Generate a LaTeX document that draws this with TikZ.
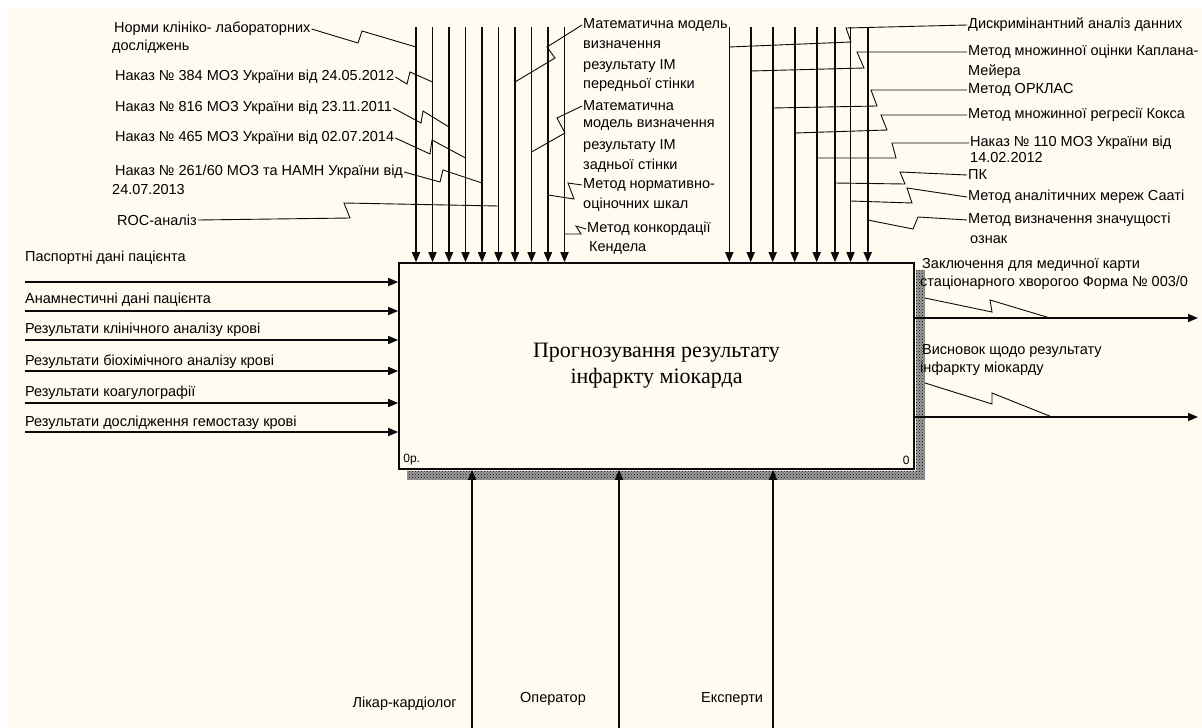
\documentclass[tikz,border=0pt]{standalone}
\usepackage{fontspec}
\setmainfont{Liberation Sans}
\newfontfamily\titlefont{Liberation Serif}
\usepackage{tikz}
\usetikzlibrary{
    arrows.meta,
    calc,
    patterns
}
\tikzset{
  lbl/.style  = {inner sep=1pt, anchor=west, font=\fontsize{14.5}{16}\selectfont},
  arr/.style  = {-{Triangle[length=10pt,width=8pt]}, line width=1.6pt, color=Ink},
  lead/.style = {line width=0.9pt, color=Ink}
}
\definecolor{Paper}{RGB}{255,251,240}
\definecolor{Ink}{RGB}{10,10,10}

\begin{document}
\begin{tikzpicture}[
    x=1pt, y=-1pt,
    fnbox/.style  = {rectangle, draw=Ink, fill=Paper, line width=1.6pt,
                     minimum width=515pt, minimum height=206pt,
                     align=center, inner sep=0pt,
                     font=\titlefont\fontsize{22}{26}\selectfont},
    tag/.style    = {inner sep=0pt, font=\fontsize{12}{14}\selectfont},
    shade/.style  = {fill=Ink!40, postaction={pattern=crosshatch dots, pattern color=Ink}},
  ]

  \useasboundingbox (0,0) rectangle (1202,728);
  \fill[white] (0,0) rectangle (1202,728);
  \fill[Paper] (8,8) rectangle (1202,728);

  % activity box
  \node[fnbox] (A0) at (656.5,366) {Прогнозування результату\\інфаркту міокарда};
  \fill[shade] ($(A0.north east)+(1,8)$) rectangle ($(A0.south east)+(10,10)$);
  \fill[shade] ($(A0.south west)+(9,1)$) rectangle ($(A0.south east)+(1,10)$);
  \node[tag, anchor=south west] (A0no)  at ($(A0.south west)+(5,-5)$) {0р.};
  \node[tag, anchor=south east] (A0num) at ($(A0.south east)+(-5,-5)$) {0};

  % controls, left group
  \coordinate (c1)  at (416,27);
  \coordinate (c2)  at (432.5,27);
  \coordinate (c3)  at (449,27);
  \coordinate (c4)  at (465.5,27);
  \coordinate (c5)  at (482,27);
  \coordinate (c6)  at (498.5,27);
  \coordinate (c7)  at (515,27);
  \coordinate (c8)  at (531.5,27);
  \coordinate (c9)  at (548,27);
  \coordinate (c10) at (564.5,27);
  \draw[arr] (c1)  -- (c1  |- A0.north);
  \draw[arr] (c2)  -- (c2  |- A0.north);
  \draw[arr] (c3)  -- (c3  |- A0.north);
  \draw[arr] (c4)  -- (c4  |- A0.north);
  \draw[arr] (c5)  -- (c5  |- A0.north);
  \draw[arr] (c6)  -- (c6  |- A0.north);
  \draw[arr] (c7)  -- (c7  |- A0.north);
  \draw[arr] (c8)  -- (c8  |- A0.north);
  \draw[arr] (c9)  -- (c9  |- A0.north);
  \draw[arr] (c10) -- (c10 |- A0.north);

  \coordinate (j1)  at (416,47);
  \coordinate (j2)  at (432.5,82);
  \coordinate (j3)  at (449,127);
  \coordinate (j4)  at (465.5,158);
  \coordinate (j5)  at (482,183);
  \coordinate (j6)  at (498.5,206);
  \coordinate (j7)  at (515,82);
  \coordinate (j8)  at (531.5,152);
  \coordinate (j9)  at (548,195);
  \coordinate (j10) at (564.5,234);

  \node[lbl] (norms)  at (113,29)  {Норми клініко- лабораторних};
  \node[lbl] (norms2) at (111,47)  {досліджень};
  \node[lbl] (ord384) at (114,77)  {Наказ № 384 МОЗ України від 24.05.2012};
  \node[lbl] (ord816) at (114,108) {Наказ № 816 МОЗ України від 23.11.2011};
  \node[lbl] (ord465) at (114,138) {Наказ № 465 МОЗ України від 02.07.2014};
  \node[lbl] (ord261) at (114,172) {Наказ № 261/60 МОЗ та НАМН України від};
  \node[lbl] (ord261b) at (111,190) {24.07.2013};
  \node[lbl] (roc)    at (116,220) {ROC-аналіз};

  \node[lbl] (mathA)  at (582,25)  {Математична модель};
  \node[lbl] (mathA2) at (582,45)  {визначення};
  \node[lbl] (mathA3) at (582,66)  {результату ІМ};
  \node[lbl] (mathA4) at (582,85)  {передньої стінки};
  \node[lbl] (mathB)  at (582,106) {Математична};
  \node[lbl] (mathB2) at (582,125) {модель визначення};
  \node[lbl] (mathB3) at (582,146) {результату ІМ};
  \node[lbl] (mathB4) at (582,166) {задньої стінки};
  \node[lbl] (scale)  at (582,185) {Метод нормативно-};
  \node[lbl] (scale2) at (582,205) {оціночних шкал};
  \node[lbl] (kend)   at (586,229) {Метод конкордації};
  \node[lbl] (kend2)  at (588,248) {Кендела};

  \draw[lead] (norms.east)  -- (358,43)  -- (362,31)  -- (j1);
  \draw[lead] (ord384.east) -- (407,84)  -- (410,72)  -- (j2);
  \draw[lead] (ord816.east) -- (421,123) -- (423,111) -- (j3);
  \draw[lead] (ord465.east) -- (430,154) -- (432,140) -- (j4);
  \draw[lead] (ord261.east) -- (440,182) -- (443,170) -- (j5);
  \draw[lead] (roc.east)    -- (350,218) -- (344,203) -- (j6);
  \draw[lead] (mathA.west)  -- (547,47)  -- (555,58)  -- (j7);
  \draw[lead] (mathB.west)  -- (557,118) -- (565,133) -- (j8);
  \draw[lead] (scale.west)  -- (568,183) -- (574,199) -- (j9);
  \draw[lead] (kend.west)   -- (576,226) -- (581,234) -- (j10);

  % controls, right group
  \coordinate (d1) at (729.3,27);
  \coordinate (d2) at (750.7,27);
  \coordinate (d3) at (772.7,27);
  \coordinate (d4) at (794.7,27);
  \coordinate (d5) at (816.7,27);
  \coordinate (d6) at (835,27);
  \coordinate (d7) at (850.5,27);
  \coordinate (d8) at (867.7,27);
  \draw[arr] (d1) -- (d1 |- A0.north);
  \draw[arr] (d2) -- (d2 |- A0.north);
  \draw[arr] (d3) -- (d3 |- A0.north);
  \draw[arr] (d4) -- (d4 |- A0.north);
  \draw[arr] (d5) -- (d5 |- A0.north);
  \draw[arr] (d6) -- (d6 |- A0.north);
  \draw[arr] (d7) -- (d7 |- A0.north);
  \draw[arr] (d8) -- (d8 |- A0.north);

  \coordinate (k1) at (729.3,47);
  \coordinate (k2) at (750.7,71);
  \coordinate (k3) at (772.7,108);
  \coordinate (k4) at (794.7,133);
  \coordinate (k5) at (816.7,158);
  \coordinate (k6) at (835,183);
  \coordinate (k7) at (850.5,201);
  \coordinate (k8) at (867.7,220);

  \node[lbl] (discr)  at (967,25)  {Дискримінантний аналіз данних};
  \node[lbl] (kapl)   at (967,52)  {Метод множинної оцінки Каплана-};
  \node[lbl] (kapl2)  at (967,72)  {Мейера};
  \node[lbl] (orkl)   at (967,90)  {Метод ОРКЛАС};
  \node[lbl] (cox)    at (967,115) {Метод множинної регресії Кокса};
  \node[lbl] (ord110) at (969,143) {Наказ № 110 МОЗ України від};
  \node[lbl] (ord110b) at (969,158) {14.02.2012};
  \node[lbl] (pk)     at (967,175) {ПК};
  \node[lbl] (saaty)  at (967,197) {Метод аналітичних мереж Сааті};
  \node[lbl] (signif) at (967,220) {Метод визначення значущості};
  \node[lbl] (signif2) at (969,240) {ознак};

  \draw[lead] (discr.west)  -- (846,28)  -- (851,42)  -- (k1);
  \draw[lead] (kapl.west)   -- (857,52)  -- (864,68)  -- (k2);
  \draw[lead] (orkl.west)   -- (871,90)  -- (877,106) -- (k3);
  \draw[lead] (cox.west)    -- (881,115) -- (887,130) -- (k4);
  \draw[lead] (ord110.west) -- (892,143) -- (896,158) -- (k5);
  \draw[lead] (pk.west)     -- (900,172) -- (905,184) -- (k6);
  \draw[lead] (saaty.west)  -- (907,188) -- (912,203) -- (k7);
  \draw[lead] (signif.west) -- (918,217) -- (913,229) -- (k8);

  % inputs
  \coordinate (i1) at (25,282);
  \coordinate (i2) at (25,311);
  \coordinate (i3) at (25,340);
  \coordinate (i4) at (25,371);
  \coordinate (i5) at (25,403);
  \coordinate (i6) at (25,432);
  \draw[arr] (i1) -- (i1 -| A0.west);
  \draw[arr] (i2) -- (i2 -| A0.west);
  \draw[arr] (i3) -- (i3 -| A0.west);
  \draw[arr] (i4) -- (i4 -| A0.west);
  \draw[arr] (i5) -- (i5 -| A0.west);
  \draw[arr] (i6) -- (i6 -| A0.west);

  \node[lbl] (pasp)  at (24,258) {Паспортні дані пацієнта};
  \node[lbl] (anam)  at (24,300) {Анамнестичні дані пацієнта};
  \node[lbl] (blood) at (24,330) {Результати клінічного аналізу крові};
  \node[lbl] (bioch) at (24,362) {Результати біохімічного аналізу крові};
  \node[lbl] (coag)  at (24,393) {Результати коагулографії};
  \node[lbl] (hemo)  at (24,423) {Результати дослідження гемостазу крові};

  % outputs
  \coordinate (o1) at (1198,318);
  \coordinate (o2) at (1198,417);
  \draw[arr] (o1 -| A0.east) -- (o1);
  \draw[arr] (o2 -| A0.east) -- (o2);

  \node[lbl] (concl)  at (921,265) {Заключення для медичної карти};
  \node[lbl] (concl2) at (919,283) {стаціонарного хворогоо Форма № 003/0};
  \node[lbl] (resum)  at (921,351) {Висновок щодо результату};
  \node[lbl] (resum2) at (919,369) {інфаркту міокарду};

  \coordinate (q1) at (925,298);
  \coordinate (p1) at (1050,318);
  \coordinate (q2) at (925,383);
  \coordinate (p2) at (1052,417);
  \draw[lead] (q1) -- (992,312) -- (990,300) -- (p1);
  \draw[lead] (q2) -- (992,404) -- (992,393) -- (p2);

  % mechanisms
  \coordinate (m1) at (472,728);
  \coordinate (m2) at (619,728);
  \coordinate (m3) at (773,728);
  \draw[arr] (m1) -- (m1 |- A0.south);
  \draw[arr] (m2) -- (m2 |- A0.south);
  \draw[arr] (m3) -- (m3 |- A0.south);

  \node[lbl, anchor=east] (doc)   at (458,704) {Лікар-кардіолог};
  \node[lbl]              (oper)  at (519,699) {Оператор};
  \node[lbl]              (exper) at (700,699) {Експерти};

\end{tikzpicture}
\end{document}
